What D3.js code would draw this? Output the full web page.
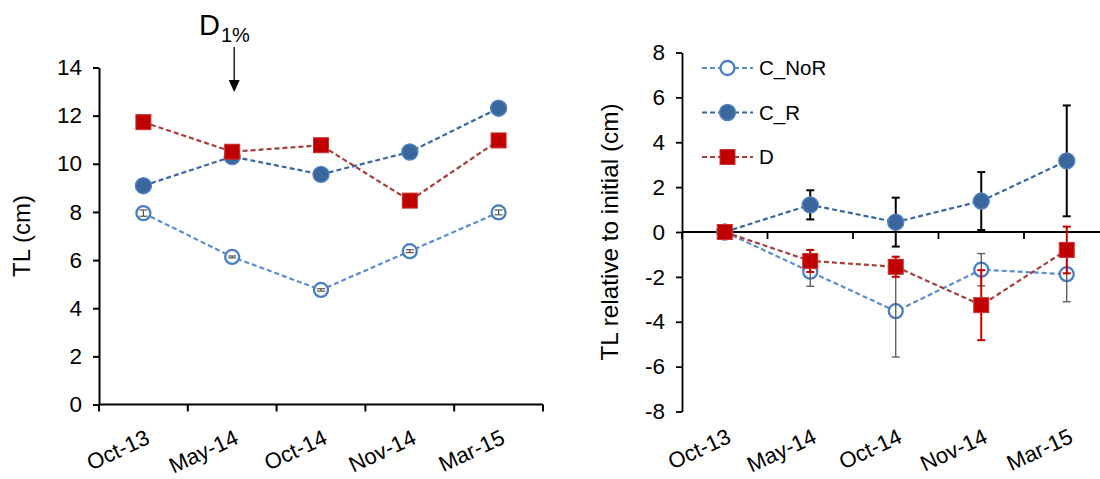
<!DOCTYPE html>
<html>
<head>
<meta charset="utf-8">
<script src="https://cdn.jsdelivr.net/npm/d3@7"></script>
<style>
  body { margin: 0; background: #fff; }
  svg { display: block; }
  text { font-family: "Liberation Sans", Arial, sans-serif; fill: #000; }
</style>
</head>
<body>
<svg id="chart" width="1100" height="479"></svg>
<script>
// Sampling dates
const months = ["Oct-13", "May-14", "Oct-14", "Nov-14", "Mar-15"];

// Total length (cm)
const tlNoR = [7.95, 6.13, 4.76, 6.37, 7.98];
const tlNoRErr = [0.13, 0.04, 0.05, 0.06, 0.10];
const tlR = [9.09, 10.30, 9.56, 10.49, 12.31];
const tlD = [11.73, 10.50, 10.77, 8.47, 10.97];

// Total length relative to initial (cm)
const relNoR = [0, -1.77, -3.53, -1.68, -1.88];
const relNoRErr = [0, 0.65, 2.04, 0.72, 1.23];
const relR = [0, 1.21, 0.44, 1.38, 3.17];
const relRErr = [0, 0.65, 1.09, 1.29, 2.47];
const relD = [0, -1.29, -1.55, -3.26, -0.80];
const relDErr = [0, 0.49, 0.45, 1.56, 1.04];

const seriesNames = ["C_NoR", "C_R", "D"];
const tlTicks = [0, 2, 4, 6, 8, 10, 12, 14];
const relTicks = [-8, -6, -4, -2, 0, 2, 4, 6, 8];

const FONT = "'Liberation Sans', Arial, sans-serif";

const style = {
  "C_NoR": { line: "#5b8dd0", marker: "open", fill: "#fff", stroke: "#4a7ebf", err: "#555" },
  "C_R":   { line: "#3b65a0", marker: "circle", fill: "#3a669e", stroke: "#5283bf", err: "#000" },
  "D":     { line: "#a63e3d", marker: "square", fill: "#c00000", stroke: "#c93030", err: "#c00000" }
};

const svg = d3.select("#chart");

function drawMarker(g, name, cx, cy) {
  const s = style[name];
  if (s.marker === "square") {
    g.append("rect").attr("x", cx - 7.5).attr("y", cy - 7.5).attr("width", 15).attr("height", 15)
      .attr("fill", s.fill).attr("stroke", s.stroke).attr("stroke-width", 1);
  } else if (s.marker === "open") {
    g.append("circle").attr("cx", cx).attr("cy", cy).attr("r", 7)
      .attr("fill", s.fill).attr("stroke", s.stroke).attr("stroke-width", 2.3);
  } else {
    g.append("circle").attr("cx", cx).attr("cy", cy).attr("r", 8)
      .attr("fill", s.fill).attr("stroke", s.stroke).attr("stroke-width", 1.4);
  }
}

function errorBars(g, name, x, y, vals, errs, width) {
  const s = style[name];
  vals.forEach((v, i) => {
    if (!errs[i]) return;
    const cx = x(months[i]) + x.bandwidth() / 2;
    const y1 = y(v - errs[i]), y2 = y(v + errs[i]);
    const eg = g.append("g").attr("stroke", s.err).attr("stroke-width", width).attr("fill", "none");
    eg.append("line").attr("x1", cx).attr("x2", cx).attr("y1", y1).attr("y2", y2);
    eg.append("line").attr("x1", cx - 4).attr("x2", cx + 4).attr("y1", y1).attr("y2", y1);
    eg.append("line").attr("x1", cx - 4).attr("x2", cx + 4).attr("y1", y2).attr("y2", y2);
  });
}

function drawPanel(opts) {
  const { x, y, series, ticks, axisY, labelY, axisW, title, titleX, titleSize } = opts;
  const g = svg.append("g");
  const x0 = x.range()[0];

  // value axis
  const ax = g.append("g").attr("transform", `translate(${x0},0)`)
    .call(d3.axisLeft(y).tickValues(ticks).tickFormat(d3.format("d"))
      .tickSize(6).tickSizeOuter(0).tickPadding(11));
  ax.attr("font-size", 22.5).attr("font-family", FONT);
  ax.select(".domain").attr("stroke", "#000").attr("stroke-width", axisW);
  ax.selectAll(".tick line").attr("stroke", "#000").attr("stroke-width", axisW);
  ax.selectAll(".tick text").attr("font-size", 22.5).attr("font-family", FONT)
    .attr("fill", "#000").text(d => d < 0 ? "-" + Math.abs(d) : d);

  // category axis: line plus ticks at band boundaries
  const bounds = months.map(m => x(m)).concat([x.range()[1]]);
  g.append("line").attr("x1", x0).attr("x2", x.range()[1]).attr("y1", axisY).attr("y2", axisY)
    .attr("stroke", "#000").attr("stroke-width", axisW);
  g.selectAll(".xt").data(bounds).enter().append("line")
    .attr("x1", d => d).attr("x2", d => d).attr("y1", axisY).attr("y2", axisY + 7)
    .attr("stroke", "#000").attr("stroke-width", axisW);
  g.selectAll(".xl").data(months).enter().append("text")
    .attr("transform", d => `translate(${x(d) + x.bandwidth() / 2 + 1},${labelY}) rotate(-25)`)
    .attr("text-anchor", "end").attr("dy", "0.72em")
    .attr("font-size", 22).attr("font-family", FONT).text(d => d);

  // axis title
  const midY = (y.range()[0] + y.range()[1]) / 2;
  g.append("text").attr("transform", `translate(${titleX},${midY}) rotate(-90)`)
    .attr("text-anchor", "middle").attr("font-size", titleSize).attr("font-family", FONT).text(title);

  const line = d3.line().x((d, i) => x(months[i]) + x.bandwidth() / 2).y(d => y(d));
  series.forEach(s => {
    g.append("path").datum(s.vals).attr("d", line).attr("fill", "none")
      .attr("stroke", style[s.name].line).attr("stroke-width", 2.2).attr("stroke-dasharray", "5,3");
  });
  // open markers first so their error bars stay visible, then bars, then solid markers
  const order = ["C_NoR", "bars", "C_R", "D"];
  order.forEach(k => {
    if (k === "bars") {
      series.forEach(s => { if (s.errs) errorBars(g, s.name, x, y, s.vals, s.errs, s.errW); });
    } else {
      const s = series.find(d => d.name === k);
      s.vals.forEach((v, i) => drawMarker(g, s.name, x(months[i]) + x.bandwidth() / 2, y(v)));
    }
  });
  return g;
}

// Left panel: TL
const xL = d3.scaleBand().domain(months).range([99, 543]);
const yL = d3.scaleLinear().domain([0, 14]).range([404.5, 67.5]);
drawPanel({
  x: xL, y: yL, ticks: tlTicks, axisY: yL(0), labelY: yL(0) + 24, axisW: 2,
  title: "TL (cm)", titleX: 30, titleSize: 24,
  series: [
    { name: "C_NoR", vals: tlNoR, errs: tlNoRErr, errW: 1.2 },
    { name: "C_R", vals: tlR },
    { name: "D", vals: tlD }
  ]
});

// Right panel: TL relative to initial
const xR = d3.scaleBand().domain(months).range([682, 1109.5]);
const yR = d3.scaleLinear().domain([-8, 8]).range([411.5, 52.5]);
const gR = drawPanel({
  x: xR, y: yR, ticks: relTicks, axisY: yR(0), labelY: yR(-8) + 16, axisW: 1.8,
  title: "TL relative to initial (cm)", titleX: 618, titleSize: 24.3,
  series: [
    { name: "C_NoR", vals: relNoR, errs: relNoRErr, errW: 1.3 },
    { name: "C_R", vals: relR, errs: relRErr, errW: 2 },
    { name: "D", vals: relD, errs: relDErr, errW: 2 }
  ]
});

// Legend
const legend = gR.append("g");
seriesNames.forEach((name, i) => {
  const ly = 68 + i * 44.5;
  legend.append("line").attr("x1", 702).attr("x2", 753).attr("y1", ly).attr("y2", ly)
    .attr("stroke", style[name].line).attr("stroke-width", 2).attr("stroke-dasharray", "5,3");
  drawMarker(legend, name, 727.5, ly);
  legend.append("text").attr("x", 759).attr("y", ly).attr("dy", "0.36em")
    .attr("font-size", 20.5).attr("font-family", FONT).text(name);
});

// Treatment annotation with arrow
const ann = svg.append("g");
const ax0 = xL("May-14") + xL.bandwidth() / 2 + 2;
ann.append("line").attr("x1", ax0).attr("x2", ax0).attr("y1", 47).attr("y2", 81)
  .attr("stroke", "#000").attr("stroke-width", 1.3);
ann.append("path").attr("d", `M${ax0 - 5.5},80 L${ax0 + 5.5},80 L${ax0},92 Z`).attr("fill", "#000");
const lbl = ann.append("text").attr("x", 199).attr("y", 35).attr("font-family", FONT);
lbl.append("tspan").attr("font-size", 29).text("D");
lbl.append("tspan").attr("font-size", 20).attr("dy", 7).attr("dx", 1).text("1%");
</script>
</body>
</html>
